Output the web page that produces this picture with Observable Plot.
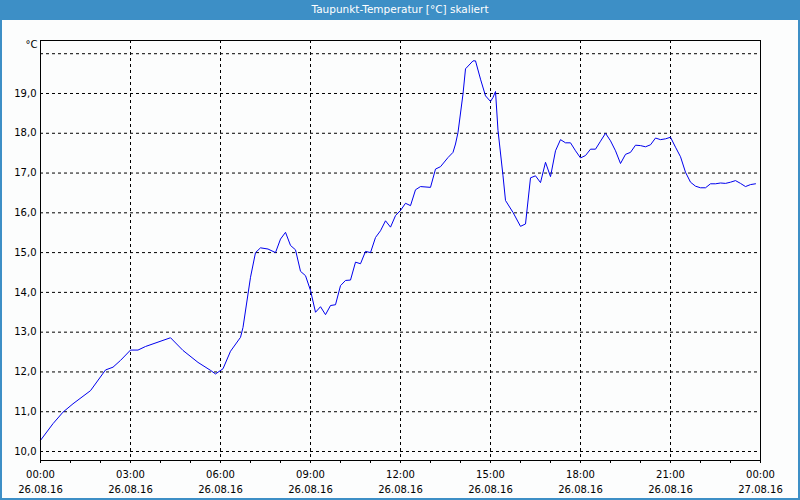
<!DOCTYPE html>
<html>
<head>
<meta charset="utf-8">
<script src="https://cdn.jsdelivr.net/npm/d3@7"></script>
<script src="https://cdn.jsdelivr.net/npm/@observablehq/plot@0.6"></script>
<style>
  html, body { margin: 0; padding: 0; background: #fcfdfd; }
  #wrap { position: relative; width: 800px; height: 500px; background: #fcfdfd; overflow: hidden; font-family: "DejaVu Sans", sans-serif; }
  #title { position: absolute; left: 0; top: 0; width: 800px; height: 20px; background: #3d8fc6; color: #fff; font-size: 10.5px; line-height: 18px; text-align: center; font-family: "DejaVu Sans", sans-serif; }
  #chart { position: absolute; left: 0; top: 20px; }
  #border { position: absolute; left: 0; top: 0; width: 796px; height: 498px; border-left: 2px solid #3d8fc6; border-right: 2px solid #3d8fc6; border-bottom: 2px solid #3d8fc6; pointer-events: none; }
</style>
</head>
<body>
<div id="wrap">
  <div id="title">Taupunkt-Temperatur [°C] skaliert</div>
  <div id="chart"></div>
  <div id="border"></div>
</div>
<script>
// minutes after 26.08.16 00:00
const minutes = [0, 25, 45, 65, 100, 130, 145, 160, 180, 195, 210, 235, 260, 285, 315, 325, 340, 350, 365, 380,
  400, 405, 420, 430, 440, 455, 470, 480, 490, 500, 510, 520, 530, 540, 550, 560, 570, 580, 590, 600,
  610, 620, 630, 640, 650, 660, 670, 680, 690, 700, 710, 720, 730, 740, 750, 760, 780, 790, 800, 815,
  825, 830, 835, 845, 850, 865, 870, 880, 890, 900, 905, 910, 915, 925, 930, 945, 960, 970, 980, 990,
  1000, 1010, 1020, 1030, 1040, 1050, 1060, 1070, 1080, 1090, 1100, 1110, 1120, 1130, 1140, 1150, 1160, 1170, 1180, 1190,
  1200, 1210, 1220, 1230, 1240, 1250, 1260, 1270, 1280, 1290, 1300, 1310, 1320, 1330, 1340, 1350, 1360, 1370, 1380, 1390,
  1400, 1410, 1420, 1430];
const dewpoint = [10.28, 10.70, 10.99, 11.20, 11.53, 12.05, 12.12, 12.29, 12.55, 12.55, 12.64, 12.75, 12.86, 12.54, 12.24, 12.16, 12.04, 11.95, 12.08, 12.52,
  12.87, 13.12, 14.38, 15.00, 15.12, 15.09, 15.00, 15.34, 15.51, 15.18, 15.07, 14.53, 14.42, 14.05, 13.50, 13.64, 13.44, 13.67, 13.69, 14.17,
  14.30, 14.31, 14.76, 14.72, 15.03, 15.00, 15.38, 15.55, 15.80, 15.64, 15.93, 16.06, 16.24, 16.18, 16.58, 16.66, 16.64, 17.10, 17.16, 17.39,
  17.52, 17.73, 18.02, 18.99, 19.62, 19.82, 19.82, 19.36, 18.94, 18.80, 18.90, 19.05, 18.07, 16.93, 16.31, 16.01, 15.66, 15.72, 16.88, 16.93,
  16.76, 17.27, 16.91, 17.56, 17.84, 17.76, 17.76, 17.56, 17.38, 17.44, 17.60, 17.60, 17.80, 18.00, 17.81, 17.56, 17.24, 17.47, 17.52, 17.70,
  17.69, 17.66, 17.71, 17.88, 17.84, 17.86, 17.90, 17.65, 17.41, 17.02, 16.77, 16.67, 16.63, 16.63, 16.73, 16.73, 16.75, 16.74, 16.77, 16.81,
  16.74, 16.66, 16.71, 16.73];
const yTicks = [10, 11, 12, 13, 14, 15, 16, 17, 18, 19];
const yGrid = [10, 11, 12, 13, 14, 15, 16, 17, 18, 19, 20];
const xLabelHours = [0, 3, 6, 9, 12, 15, 18, 21, 24];
const xGridHours = [3, 6, 9, 12, 15, 18, 21];
const xTickHours = d3.range(0, 25);

const start = Date.UTC(2016, 7, 26, 0, 0);
const toDate = (m) => new Date(start + m * 60000);
const data = minutes.map((m, i) => ({t: toDate(m), v: dewpoint[i]}));
const fmtTime = d3.utcFormat("%H:%M");
const fmtDate = d3.utcFormat("%d.%m.%y");

const chart = Plot.plot({
  width: 800,
  height: 478,
  marginTop: 20,
  marginBottom: 38,
  marginLeft: 40,
  marginRight: 40,
  style: {fontFamily: "DejaVu Sans, sans-serif", fontSize: "10px", background: "transparent", color: "#000"},
  x: {type: "utc", domain: [toDate(0), toDate(1440)]},
  y: {domain: [9.774, 20.332]},
  marks: [
    Plot.gridY(yGrid, {stroke: "#000", strokeOpacity: 1, strokeDasharray: "3,3"}),
    Plot.gridX(xGridHours.map(h => toDate(h * 60)), {stroke: "#000", strokeOpacity: 1, strokeDasharray: "3,3"}),
    Plot.line(data, {x: "t", y: "v", stroke: "#0000ee", strokeWidth: 1}),
    Plot.frame({stroke: "#000"}),
    Plot.axisY(yTicks, {tickSize: 0, tickPadding: 4, tickFormat: d => d.toFixed(1).replace(".", ","), label: null, fill: "#000"}),
    Plot.axisX(xTickHours.map(h => toDate(h * 60)), {tickSize: 3, tickFormat: () => "", label: null}),
    Plot.axisX(xLabelHours.map(h => toDate(h * 60)), {tickSize: 3, tickPadding: 4, lineHeight: 1.5, fill: "#000",
      tickFormat: d => fmtTime(d) + "\n" + fmtDate(d), label: null}),
    Plot.text(["°C"], {frameAnchor: "top-left", textAnchor: "end", lineAnchor: "middle", dx: -3, dy: 4, fill: "#000"})
  ]
});
document.getElementById("chart").appendChild(chart);
</script>
</body>
</html>
